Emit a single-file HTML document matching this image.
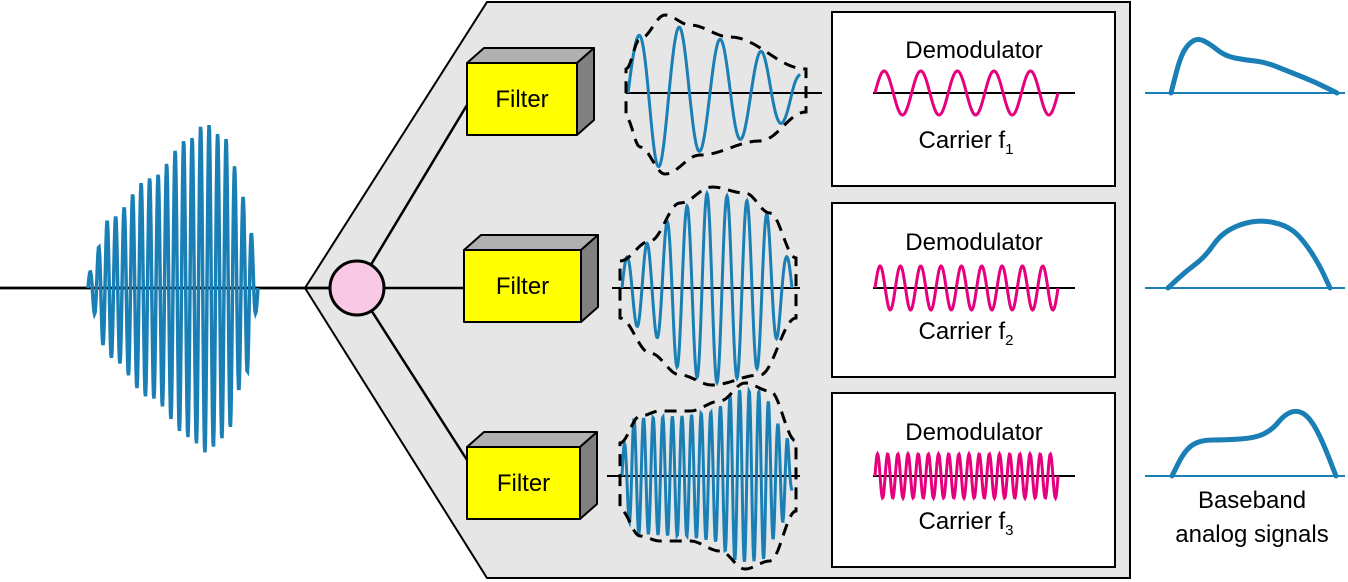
<!DOCTYPE html>
<html><head><meta charset="utf-8"><style>
html,body{margin:0;padding:0;background:#fff;}
svg{display:block;font-family:"Liberation Sans",sans-serif;}
</style></head><body>
<svg id="s" width="1348" height="582" viewBox="0 0 1348 582" xmlns="http://www.w3.org/2000/svg">
<polygon points="305,288 487,2 1130,2 1130,578 487,578" fill="#e6e6e6" stroke="#000" stroke-width="2"/>
<line x1="0" y1="288" x2="330" y2="288" stroke="#000" stroke-width="2.5"/>
<line x1="357" y1="288" x2="467" y2="105" stroke="#000" stroke-width="2.5"/>
<line x1="357" y1="288" x2="464" y2="288" stroke="#000" stroke-width="2.5"/>
<line x1="357" y1="288" x2="467" y2="460" stroke="#000" stroke-width="2.5"/>
<circle cx="357" cy="288" r="27" fill="#f9c8e4" stroke="#000" stroke-width="3"/>
<g id="filters" stroke="#000" stroke-width="2" stroke-linejoin="round"></g>
<g stroke="#000" stroke-width="2" fill="#fff">
<rect x="832" y="12" width="283" height="174"/>
<rect x="832" y="203" width="283" height="174"/>
<rect x="832" y="393" width="283" height="174"/>
</g>
<g id="waves" fill="none"></g>
<g font-size="24" text-anchor="middle" fill="#000">
<text x="974" y="58">Demodulator</text>
<text x="966" y="148">Carrier f<tspan font-size="15" dy="6">1</tspan></text>
<text x="974" y="250">Demodulator</text>
<text x="966" y="339">Carrier f<tspan font-size="15" dy="6">2</tspan></text>
<text x="974" y="440">Demodulator</text>
<text x="966" y="529">Carrier f<tspan font-size="15" dy="6">3</tspan></text>
<text x="1252" y="508">Baseband</text>
<text x="1252" y="542">analog signals</text>
</g>
</svg>
<script>
var NS="http://www.w3.org/2000/svg";
function el(p,t,a){var e=document.createElementNS(NS,t);for(var k in a)e.setAttribute(k,a[k]);document.getElementById(p).appendChild(e);return e;}
[[467,63,110,72],[464,250,117,72],[467,447,113,72]].forEach(function(f){
 var x=f[0],y=f[1],w=f[2],h=f[3],d=17,e=15;
 el("filters","polygon",{points:[x,y,x+d,y-e,x+w+d,y-e,x+w,y].join(","),fill:"#b0b0b0"});
 el("filters","polygon",{points:[x+w,y,x+w+d,y-e,x+w+d,y+h-e,x+w,y+h].join(","),fill:"#808080"});
 el("filters","rect",{x:x,y:y,width:w,height:h,fill:"#ffff00"});
 var t=el("filters","text",{x:x+w/2,y:y+h/2+8,"font-size":"24","text-anchor":"middle",stroke:"none",fill:"#000"});t.textContent="Filter";
});
function interp(pts,x){if(x<=pts[0][0])return pts[0][1];for(var i=1;i<pts.length;i++){if(x<=pts[i][0]){var a=pts[i-1],b=pts[i],t=(x-a[0])/(b[0]-a[0]);t=(1-Math.cos(Math.PI*t))/2;return a[1]+(b[1]-a[1])*t;}}return pts[pts.length-1][1];}
function wave(x0,x1,cy,period,env,col,sw){var d="";for(var x=x0;x<=x1;x+=0.5){var y=cy-interp(env,x)*Math.sin(2*Math.PI*(x-x0)/period);d+=(d?"L":"M")+x.toFixed(1)+","+y.toFixed(1);}el("waves","path",{d:d,stroke:col,"stroke-width":sw});}
function envpath(x0,x1,cy,up,lo,pad){var d="";for(var x=x0;x<=x1;x+=2){d+=(d?"L":"M")+x+","+(cy-interp(up,x)-pad).toFixed(1);}for(var x=x1;x>=x0;x-=2){d+="L"+x+","+(cy+interp(lo,x)+pad).toFixed(1);}d+="Z";el("waves","path",{d:d,stroke:"#000","stroke-width":3,"stroke-dasharray":"12,8",fill:"none"});}
function axis(x0,x1,y,col,w){el("waves","line",{x1:x0,y1:y,x2:x1,y2:y,stroke:col,"stroke-width":w});}
axis(0,330,288,"#000",2.5);
wave(88,258,288,8.5,[[88,15],[110,70],[150,110],[190,150],[205,165],[225,150],[245,90],[258,20]],"#1a7fb5",3.5);
axis(626,822,93,"#000",2);
wave(628,800,93,41,[[628,50],[656,74],[676,66],[716,54],[758,42],[790,28],[800,20]],"#1a7fb5",3);
envpath(626,806,93,[[626,20],[640,50],[665,74],[690,64],[730,52],[806,20]],[[626,20],[640,50],[665,77],[700,58],[760,44],[806,15]],4);
axis(612,800,288,"#000",2);
wave(622,792,288,20,[[622,30],[650,45],[680,80],[710,95],[740,90],[760,80],[790,30]],"#1a7fb5",3);
envpath(620,796,288,[[620,22],[650,42],[680,80],[712,96],[745,90],[770,70],[796,25]],[[620,25],[650,60],[680,82],[712,92],[760,82],[796,25]],5);
axis(607,800,476,"#000",2);
wave(622,792,476,9.6,[[622,30],[635,58],[680,60],[710,64],[740,86],[760,85],[785,45],[792,15]],"#1a7fb5",3);
envpath(620,796,476,[[620,28],[640,55],[660,60],[690,60],[720,70],[745,88],[770,80],[796,30]],[[620,28],[640,55],[660,60],[690,60],[720,70],[745,88],[770,80],[796,30]],5);
[[93,5],[288,9],[476,18]].forEach(function(c){axis(873,1075,c[0],"#000",2);wave(875,1058,c[0],183/c[1],[[875,22],[1058,22]],"#e6007e",3);});
function bb(cy,pts){axis(1145,1345,cy,"#1a7fb5",2);var d="M"+pts[0].join(",");for(var i=1;i<pts.length;i++){var p0=pts[i-1],p1=pts[i],mx=(p0[0]+p1[0])/2,my=(p0[1]+p1[1])/2;d+=" Q"+p0.join(",")+" "+mx+","+my;}d+=" L"+pts[pts.length-1].join(",");el("waves","path",{d:d,stroke:"#1a7fb5","stroke-width":5,fill:"none","stroke-linejoin":"round","stroke-linecap":"round"});}
bb(93,[[1171,93],[1171,93],[1180,58],[1188,44],[1198,38],[1210,44],[1225,56],[1245,60],[1265,62],[1290,72],[1315,82],[1337,93],[1337,93]]);
bb(288,[[1168,288],[1168,288],[1185,272],[1205,257],[1220,235],[1240,224],[1262,220],[1285,225],[1300,236],[1318,262],[1330,288],[1330,288]]);
bb(476,[[1172,476],[1172,476],[1185,450],[1200,440],[1225,440],[1255,438],[1272,430],[1285,414],[1298,410],[1310,418],[1322,440],[1336,476],[1336,476]]);
</script>
</body></html>
